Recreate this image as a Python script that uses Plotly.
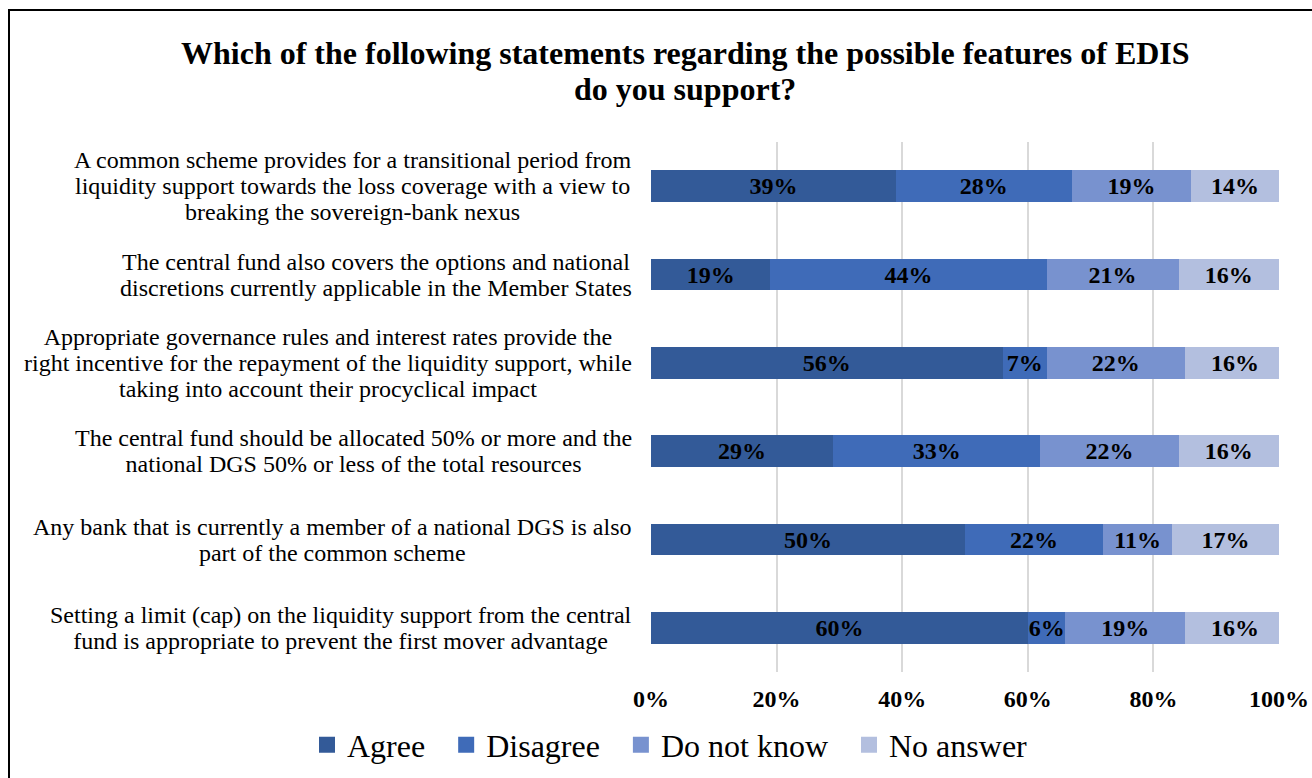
import plotly.graph_objects as go

statements = [
    ["A common scheme provides for a transitional period from",
     "liquidity support towards the loss coverage with a view to",
     "breaking the sovereign-bank nexus"],
    ["The central fund also covers the options and national",
     "discretions currently applicable in the Member States"],
    ["Appropriate governance rules and interest rates provide the",
     "right incentive for the repayment of the liquidity support, while",
     "taking into account their procyclical impact"],
    ["The central fund should be allocated 50% or more and the",
     "national DGS 50% or less of the total resources"],
    ["Any bank that is currently a member of a national DGS is also",
     "part of the common scheme"],
    ["Setting a limit (cap) on the liquidity support from the central",
     "fund is appropriate to prevent the first mover advantage"],
]
categories = [" ".join(lines) for lines in statements]

agree = [39, 19, 56, 29, 50, 60]
disagree = [28, 44, 7, 33, 22, 6]
do_not_know = [19, 21, 22, 22, 11, 19]
no_answer = [14, 16, 16, 16, 17, 16]

series = [
    ("Agree", agree, "#335a98"),
    ("Disagree", disagree, "#3f6bb8"),
    ("Do not know", do_not_know, "#7892cf"),
    ("No answer", no_answer, "#b3bfdf"),
]

title_lines = [
    "Which of the following statements regarding the possible features of EDIS",
    "do you support?",
]

tick_values = [0, 20, 40, 60, 80, 100]

FONT = "Liberation Serif, Times New Roman, serif"

W, H = 1312, 778
L, R, T, B = 651, 33, 142, 106
pw, ph = W - L - R, H - T - B


def px_x(x):
    return (x - L) / pw


def px_y(y):
    return (H - B - y) / ph


fig = go.Figure()
for name, vals, color in series:
    fig.add_trace(go.Bar(
        name=name,
        y=categories,
        x=vals,
        orientation="h",
        marker=dict(color=color, line=dict(width=0)),
        text=[f"<b>{v}%</b>" for v in vals],
        textposition="inside",
        insidetextanchor="middle",
        textfont=dict(family=FONT, size=24, color="black"),
        hoverinfo="skip",
        showlegend=False,
    ))
    # legend entry with a larger square swatch; trailing no-break spaces widen the gap
    fig.add_trace(go.Scatter(
        name=name + "\u00a0\u00a0",
        x=[None], y=[None],
        mode="markers",
        marker=dict(symbol="square", size=16, color=color),
        showlegend=True,
        hoverinfo="skip",
    ))

annotations = []
# category labels: lines centred on each other, block right-aligned near the axis;
# base size 20 keeps the line pitch tight while the glyphs render at 24px
for cat, lines in zip(categories, statements):
    text = "<br>".join(f"<span style='font-size:24px'>{ln}</span>" for ln in lines)
    annotations.append(dict(
        text=text, xref="paper", yref="y", x=px_x(634), y=cat,
        xanchor="right", yanchor="middle", align="center",
        showarrow=False,
        font=dict(family=FONT, size=20, color="black"),
    ))
# two-line title
for line, yc in zip(title_lines, [53, 89]):
    annotations.append(dict(
        text=f"<b>{line}</b>", xref="paper", yref="paper",
        x=px_x(685), y=px_y(yc), xanchor="center", yanchor="middle",
        showarrow=False,
        font=dict(family=FONT, size=32, color="black"),
    ))

fig.update_layout(
    width=W, height=H,
    barmode="stack",
    bargap=0.64,
    paper_bgcolor="white",
    plot_bgcolor="white",
    margin=dict(l=L, r=R, t=T, b=B, autoexpand=False),
    font=dict(family=FONT, color="black"),
    uniformtext=dict(minsize=24, mode="show"),
    showlegend=True,
    legend=dict(
        orientation="h",
        # placed left of and below the plot area so the single row may span the margin
        x=px_x(307), xref="paper", xanchor="left",
        y=px_y(745), yref="paper", yanchor="middle",
        font=dict(family=FONT, size=32, color="black"),
        bgcolor="rgba(0,0,0,0)",
        traceorder="normal",
        itemsizing="trace",
        itemwidth=30,
    ),
    annotations=annotations,
    shapes=[dict(
        type="rect", xref="paper", yref="paper",
        x0=px_x(9), x1=px_x(W + 20),
        y0=px_y(H + 20), y1=px_y(10),
        line=dict(color="black", width=2), fillcolor="rgba(0,0,0,0)",
        layer="below",
    )],
)

fig.update_xaxes(
    range=[0, 100],
    tickvals=tick_values,
    ticktext=[f"<b>{v}%</b>" for v in tick_values],
    tickfont=dict(family=FONT, size=24, color="black"),
    showgrid=True, gridcolor="#d9d9d9", gridwidth=1.5,
    zeroline=False, showline=False,
    ticks="", ticklabelstandoff=10,
    fixedrange=True,
)
fig.update_yaxes(
    autorange="reversed",
    showticklabels=False,
    ticks="",
    showgrid=False, showline=False,
    fixedrange=True,
)

fig.write_html("out.html")
